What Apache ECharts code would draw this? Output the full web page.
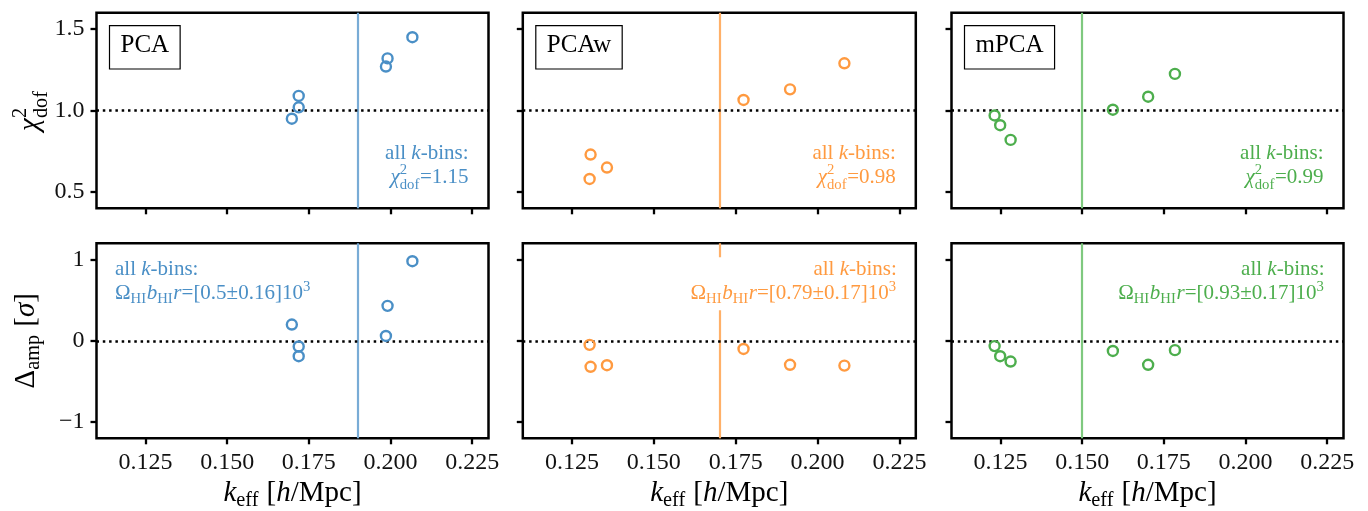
<!DOCTYPE html>
<html><head><meta charset="utf-8">
<script src="https://cdn.jsdelivr.net/npm/echarts@6/dist/echarts.min.js"></script>
<style>html,body{margin:0;padding:0;background:#fff}#c{width:1368px;height:511px}</style>
</head><body><div id="c"></div>
<script>
// ---------- data ----------
const methods = ['PCA', 'PCAw', 'mPCA'];
const kEffPCA  = [0.1698, 0.1719, 0.1719, 0.1986, 0.1991, 0.2067];
const chi2PCA  = [0.95, 1.09, 1.02, 1.27, 1.32, 1.45];
const dampPCA  = [0.20, -0.07, -0.19, 0.06, 0.43, 0.98];
const kEffPCAw = [0.1304, 0.1307, 0.1357, 0.1774, 0.1916, 0.2082];
const chi2PCAw = [0.58, 0.73, 0.65, 1.065, 1.13, 1.29];
const dampPCAw = [-0.05, -0.32, -0.30, -0.10, -0.295, -0.305];
const kEffmPCA = [0.1232, 0.1249, 0.1281, 0.1594, 0.1702, 0.1784];
const chi2mPCA = [0.97, 0.91, 0.82, 1.005, 1.085, 1.225];
const dampmPCA = [-0.065, -0.19, -0.255, -0.125, -0.295, -0.115];
const kSplit   = [0.1913, 0.1690, 0.1507];
const chi2All  = ['1.15', '0.98', '0.99'];
const ampAll   = ['[0.5±0.16]', '[0.79±0.17]', '[0.93±0.17]'];
const xTicks   = [0.125, 0.150, 0.175, 0.200, 0.225];
const chiTicks = [0.5, 1.0, 1.5];
const ampTicks = [-1, 0, 1];
const xRange   = [0.11, 0.23];
const chiRange = [0.4, 1.6];
const ampRange = [-1.2, 1.2];
const refLines = [1, 0];

const kEffs = [kEffPCA, kEffPCAw, kEffmPCA];
const chi2s = [chi2PCA, chi2PCAw, chi2mPCA];
const damps = [dampPCA, dampPCAw, dampmPCA];

// ---------- style / layout ----------
const colors     = ['#4a8fc6', '#ff9a40', '#4dae4d'];
const lineColors = ['#79acd6', '#ffb068', '#7fc97f'];
const FF = '"Liberation Serif", "Times New Roman", serif';
const colLeft = [96.5, 522.8, 951.5];
const colW    = [392, 393, 392];
const rowTop  = [12.8, 243.3];
const rowH    = [195.5, 195];

const ctx = document.createElement('canvas').getContext('2d');
function fontStr(size, it) { return (it ? 'italic ' : '') + size + 'px ' + FF; }
function tw(t, size, it) { ctx.font = fontStr(size, it); return ctx.measureText(t).width; }

function mathRun(pieces, size, color, z) {
  const els = []; let x = 0; const ss = size * 0.7;
  const push = (t, sz, it, xx, base) => els.push({
    type: 'text', z: z, x: xx, y: base - 0.34 * sz, silent: true,
    style: { text: t, font: fontStr(sz, it), fill: color,
             textAlign: 'left', textVerticalAlign: 'middle', align: 'left', verticalAlign: 'middle' }
  });
  for (const p of pieces) {
    if (p.t != null) { push(p.t, size, p.it, x, 0); x += tw(p.t, size, p.it); }
    else {
      let w = 0;
      if (p.sup != null) { push(p.sup, ss, false, x, -(p.sub != null ? 0.42 : 0.38) * size); w = Math.max(w, tw(p.sup, ss)); }
      if (p.sub != null) { push(p.sub, ss, false, x, (p.sup != null ? 0.28 : 0.17) * size); w = Math.max(w, tw(p.sub, ss)); }
      x += w + 0.03 * size;
    }
  }
  return { els, width: x };
}
function placeRun(pieces, size, color, x, y, anchor, rotation) {
  const r = mathRun(pieces, size, color, 100);
  const off = anchor === 'right' ? -r.width : anchor === 'center' ? -r.width / 2 : 0;
  r.els.forEach(e => e.x += off);
  return { group: { type: 'group', x: x, y: y, rotation: rotation || 0, z: 100, children: r.els }, width: r.width, off: off };
}

const grids = [], xAxes = [], yAxes = [], series = [], graphics = [];
for (let r = 0; r < 2; r++) {
  for (let c = 0; c < 3; c++) {
    const i = r * 3 + c;
    grids.push({ left: colLeft[c], top: rowTop[r], width: colW[c], height: rowH[r],
      show: true, borderColor: '#000', borderWidth: 2.5, backgroundColor: 'transparent' });
    xAxes.push({ gridIndex: i, type: 'value', min: xRange[0], max: xRange[1],
      axisLine: { show: false, onZero: false },
      axisTick: { show: true, inside: false, length: 6, customValues: xTicks, lineStyle: { color: '#000', width: 2.3 } },
      axisLabel: { show: r === 1, customValues: xTicks, formatter: v => v.toFixed(3),
        fontFamily: FF, fontSize: 24, color: '#111', margin: 12 },
      splitLine: { show: false } });
    const yt = r === 0 ? chiTicks : ampTicks;
    const yr = r === 0 ? chiRange : ampRange;
    yAxes.push({ gridIndex: i, type: 'value', min: yr[0], max: yr[1],
      axisLine: { show: false, onZero: false },
      axisTick: { show: true, inside: false, length: 6, customValues: yt, lineStyle: { color: '#000', width: 2.3 } },
      axisLabel: { show: c === 0, customValues: yt,
        formatter: r === 0 ? (v => v.toFixed(1)) : (v => v < 0 ? '\u2212' + Math.abs(v) : String(v)),
        fontFamily: FF, fontSize: 24, color: '#111', margin: 12 },
      splitLine: { show: false } });
    const vals = r === 0 ? chi2s[c] : damps[c];
    series.push({ type: 'scatter', xAxisIndex: i, yAxisIndex: i, silent: true, z: 4,
      data: kEffs[c].map((k, j) => [k, vals[j]]),
      symbol: 'circle', symbolSize: 10,
      itemStyle: { color: 'rgba(0,0,0,0)', borderColor: colors[c], borderWidth: 2.4, opacity: 1 },
      emphasis: { disabled: true },
      markLine: { silent: true, symbol: 'none', animation: false, label: { show: false }, z: 3,
        data: [
          { xAxis: kSplit[c], lineStyle: { color: lineColors[c], width: 2.2, type: 'solid' } },
          { yAxis: refLines[r], lineStyle: { color: '#000', width: 2.5, type: [2.5, 3.8] } }
        ] } });

    // annotations
    const line1 = [{ t: 'all ' }, { t: 'k', it: true }, { t: '-bins:' }];
    const fs = 21;
    if (r === 0) {
      const line2 = [{ t: 'χ', it: true }, { sup: '2', sub: 'dof' }, { t: '=' + chi2All[c] }];
      const xr = colLeft[c] + colW[c] - 20;
      const b2 = rowTop[0] + rowH[0] - 24, b1 = b2 - 24;
      const a = placeRun(line1, fs, colors[c], xr, b1, 'right');
      const b = placeRun(line2, fs, colors[c], xr, b2, 'right');
      graphics.push(a.group, b.group);
      // method box
      const tsz = 25, tWidth = tw(methods[c], tsz, false);
      const bx = colLeft[c] + 13, by = 25.7, bw = tWidth + 22, bh = 43.3;
      graphics.push({ type: 'rect', z: 100, silent: true, shape: { x: bx, y: by, width: bw, height: bh },
        style: { fill: '#fff', stroke: '#000', lineWidth: 1.2 } });
      graphics.push({ type: 'text', z: 101, silent: true, x: bx + bw / 2, y: by + bh / 2 - 1.5,
        style: { text: methods[c], font: fontStr(tsz, false), fill: '#000',
          textAlign: 'center', textVerticalAlign: 'middle', align: 'center', verticalAlign: 'middle' } });
    } else {
      const line2 = [{ t: 'Ω' }, { sub: 'HI' }, { t: 'b', it: true }, { sub: 'HI' }, { t: 'r', it: true },
                     { t: '=' + ampAll[c] + '10' }, { sup: '3' }];
      const b1 = rowTop[1] + 33, b2 = b1 + 24;
      let a, b, x0, x1;
      if (c === 0) {
        const xl = colLeft[c] + 18.5;
        a = placeRun(line1, fs, colors[c], xl, b1, 'left');
        b = placeRun(line2, fs, colors[c], xl, b2, 'left');
        x0 = xl; x1 = xl + Math.max(a.width, b.width);
      } else {
        const xr = colLeft[c] + colW[c] - 19;
        a = placeRun(line1, fs, colors[c], xr, b1, 'right');
        b = placeRun(line2, fs, colors[c], xr, b2, 'right');
        x1 = xr; x0 = xr - Math.max(a.width, b.width);
      }
      graphics.push({ type: 'rect', z: 99, silent: true,
        shape: { x: x0 - 4, y: b1 - 19, width: x1 - x0 + 8, height: (b2 + 10) - (b1 - 19) },
        style: { fill: '#fff', stroke: null } });
      graphics.push(a.group, b.group);
    }
  }
}

// axis titles
for (let c = 0; c < 3; c++) {
  const xl = placeRun([{ t: 'k', it: true }, { sub: 'eff' }, { t: ' [' }, { t: 'h', it: true }, { t: '/Mpc]' }],
    29, '#000', colLeft[c] + colW[c] / 2, 503, 'center');
  graphics.push(xl.group);
}
const yl0 = placeRun([{ t: 'χ', it: true }, { sup: '2', sub: 'dof' }], 29, '#000', 40, rowTop[0] + rowH[0] * 0.5, 'center', Math.PI / 2);
const yl1 = placeRun([{ t: 'Δ' }, { sub: 'amp' }, { t: ' [' }, { t: 'σ', it: true }, { t: ']' }], 29, '#000', 36, rowTop[1] + rowH[1] * 0.5, 'center', Math.PI / 2);
graphics.push(yl0.group, yl1.group);

const chart = echarts.init(document.getElementById('c'), null, { renderer: 'canvas' });
chart.setOption({
  animation: false,
  backgroundColor: '#fff',
  grid: grids, xAxis: xAxes, yAxis: yAxes, series: series,
  graphic: { elements: graphics }
});
</script>
</body></html>
